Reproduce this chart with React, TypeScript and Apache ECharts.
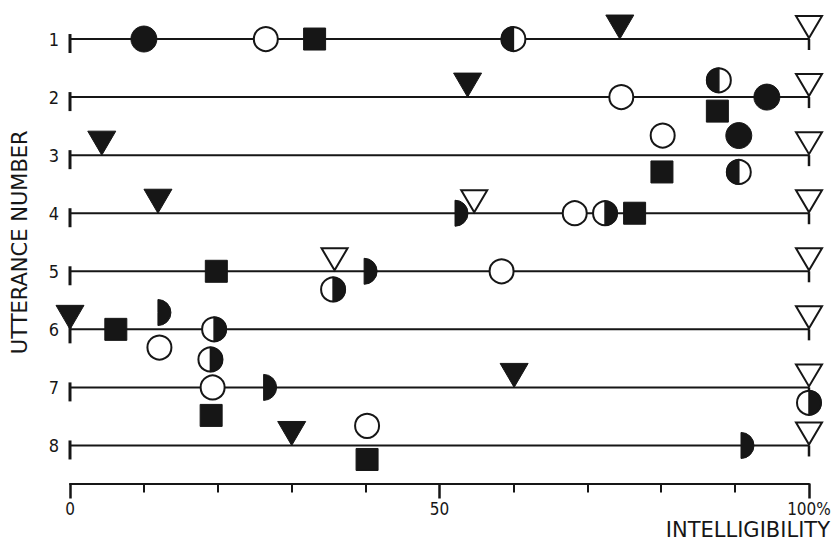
import React, { useEffect, useRef } from 'react';
import * as echarts from 'echarts';

// ---------- data ----------
const utterances = ['1', '2', '3', '4', '5', '6', '7', '8'];
const scaleRange = [0, 100];
const xTickValues = [0, 50, 100];
const xTickLabels = ['0', '50', '100%'];

// [utterance number, intelligibility %, lane (stagger above -/below + the line)]
const filledCircle = [[1, 10, 0], [2, 94.3, 0], [3, 90.5, -1.4]];
const openCircle = [[1, 26.5, 0], [2, 74.6, 0], [3, 80.2, -1.4], [4, 68.3, 0], [5, 58.4, 0], [6, 12.1, 1.3], [7, 19.3, 0], [8, 40.2, -1.4]];
const filledSquare = [[1, 33.1, 0], [2, 87.6, 1], [3, 80.1, 1.2], [4, 76.4, 0], [5, 19.8, 0], [6, 6.2, 0], [7, 19.1, 2], [8, 40.2, 1]];
const halfLeftFilled = [[1, 60, 0], [2, 87.8, -1.2], [3, 90.5, 1.2]];
const halfRightFilled = [[4, 72.4, 0], [5, 35.6, 1.3], [6, 19.5, 0], [7, 19.0, -2], [7, 100, 1.1]];
const filledTriangle = [[1, 74.4, 0], [2, 53.8, 0], [3, 4.3, 0], [4, 11.9, 0], [6, 0, 0], [7, 60.1, 0], [8, 30, 0]];
const openTriangle = [[1, 100, 0], [2, 100, 0], [3, 100, 0], [4, 54.7, 0], [4, 100, 0], [5, 35.8, 0], [5, 100, 0], [6, 100, 0], [7, 100, 0], [8, 100, 0]];
const halfDisc = [[4, 52.1, 0], [5, 39.8, 0], [6, 11.9, -1.2], [7, 26.2, 0], [8, 90.8, 0]];

// ---------- styles ----------
const INK = '#161616';
const R = 13;
const LANE = 14;
const FONT = "'DejaVu Sans Condensed', 'DejaVu Sans', sans-serif";
const TITLE_FONT = "'DejaVu Sans', sans-serif";

function shapes(kind: string, cx: number, cy: number): any[] {
  const solid = { fill: INK, stroke: INK, lineWidth: 1 };
  const open = { fill: '#fff', stroke: INK, lineWidth: 2 };
  switch (kind) {
    case 'fc':
      return [{ type: 'circle', shape: { cx, cy, r: R }, style: solid }];
    case 'oc':
      return [{ type: 'circle', shape: { cx, cy, r: R - 1 }, style: open }];
    case 'sq':
      return [{ type: 'rect', shape: { x: cx - 11, y: cy - 11, width: 22, height: 22 }, style: solid }];
    case 'hl':
      return [
        { type: 'circle', shape: { cx, cy, r: R - 1 }, style: open },
        { type: 'sector', shape: { cx, cy, r: R - 1, r0: 0, startAngle: Math.PI / 2, endAngle: Math.PI * 1.5, clockwise: true }, style: { fill: INK, stroke: INK, lineWidth: 1.5 } },
      ];
    case 'hr':
      return [
        { type: 'circle', shape: { cx, cy, r: R - 1 }, style: open },
        { type: 'sector', shape: { cx, cy, r: R - 1, r0: 0, startAngle: -Math.PI / 2, endAngle: Math.PI / 2, clockwise: true }, style: { fill: INK, stroke: INK, lineWidth: 1.5 } },
      ];
    case 'ft':
      return [{ type: 'polygon', shape: { points: [[cx - 14, cy - 24], [cx + 14, cy - 24], [cx, cy]] }, style: solid }];
    case 'ot':
      return [{ type: 'polygon', shape: { points: [[cx - 13, cy - 23], [cx + 13, cy - 23], [cx, cy - 1]] }, style: open }];
    case 'dh':
    default:
      return [{ type: 'sector', shape: { cx, cy, r: R, r0: 0, startAngle: -Math.PI / 2, endAngle: Math.PI / 2, clockwise: true }, style: solid }];
  }
}

function markerSeries(name: string, kind: string, rows: number[][]) {
  return {
    type: 'custom',
    name,
    coordinateSystem: 'cartesian2d',
    data: rows.map(([u, v, lane]) => [v, u - 1, lane]),
    encode: { x: 0, y: 1 },
    z: 3,
    renderItem: (_params: any, api: any) => {
      const p = api.coord([api.value(0), api.value(1)]);
      const cy = p[1] + api.value(2) * LANE;
      return { type: 'group', children: shapes(kind, p[0], cy) };
    },
  };
}

const rowSeries = {
  type: 'custom',
  name: 'utterance lines',
  coordinateSystem: 'cartesian2d',
  silent: true,
  data: utterances.map((_, i) => [scaleRange[1], i]),
  encode: { x: 0, y: 1 },
  z: 2,
  renderItem: (_params: any, api: any) => {
    const i = api.value(1);
    const a = api.coord([scaleRange[0], i]);
    const b = api.coord([scaleRange[1], i]);
    return {
      type: 'group',
      children: [
        { type: 'line', shape: { x1: a[0], y1: a[1], x2: b[0], y2: b[1] }, style: { stroke: INK, lineWidth: 2 } },
        { type: 'line', shape: { x1: a[0], y1: a[1] - 5, x2: a[0], y2: a[1] + 14 }, style: { stroke: INK, lineWidth: 3 } },
        { type: 'line', shape: { x1: b[0], y1: b[1], x2: b[0], y2: b[1] + 11 }, style: { stroke: INK, lineWidth: 2.5 } },
      ],
    };
  },
};

const option: any = {
  animation: false,
  backgroundColor: '#fff',
  grid: { left: 70, right: 30, top: 10, bottom: 70.5, containLabel: false, outerBoundsMode: 'none' },
  xAxis: {
    type: 'value',
    min: scaleRange[0],
    max: scaleRange[1],
    interval: 50,
    position: 'bottom',
    offset: 9,
    axisLine: { show: true, lineStyle: { color: INK, width: 2 } },
    axisTick: { show: true, length: 15, lineStyle: { color: INK, width: 2.5 } },
    minorTick: { show: true, splitNumber: 5, length: 9, lineStyle: { color: INK, width: 2 } },
    splitLine: { show: false },
    minorSplitLine: { show: false },
    axisLabel: {
      margin: 17,
      fontSize: 17,
      color: INK,
      fontFamily: FONT,
      formatter: (v: number) => {
        const k = xTickValues.indexOf(v);
        return k >= 0 ? xTickLabels[k] : '';
      },
    },
    name: 'INTELLIGIBILITY',
    nameLocation: 'end',
    nameGap: 21,
    nameTextStyle: { align: 'right', verticalAlign: 'top', padding: [36, 0, 0, 0], fontSize: 21, color: INK, fontFamily: TITLE_FONT },
  },
  yAxis: {
    type: 'category',
    data: utterances,
    inverse: true,
    axisLine: { show: false },
    axisTick: { show: false },
    splitLine: { show: false },
    axisLabel: { margin: 11, fontSize: 18, color: INK, fontFamily: FONT },
    name: 'UTTERANCE NUMBER',
    nameLocation: 'middle',
    nameGap: 40,
    nameTextStyle: { fontSize: 21, color: INK, fontFamily: TITLE_FONT },
  },
  series: [
    rowSeries,
    markerSeries('filled circle', 'fc', filledCircle),
    markerSeries('open circle', 'oc', openCircle),
    markerSeries('filled square', 'sq', filledSquare),
    markerSeries('half circle (left filled)', 'hl', halfLeftFilled),
    markerSeries('half circle (right filled)', 'hr', halfRightFilled),
    markerSeries('filled triangle', 'ft', filledTriangle),
    markerSeries('open triangle', 'ot', openTriangle),
    markerSeries('half disc', 'dh', halfDisc),
  ],
};

export default function App() {
  const ref = useRef<HTMLDivElement>(null);
  useEffect(() => {
    if (!ref.current) return;
    const chart = echarts.init(ref.current, null, { renderer: 'svg' });
    chart.setOption(option);
    return () => chart.dispose();
  }, []);
  return (
    <div
      ref={ref}
      style={{ position: 'fixed', left: 0, top: 0, width: 839, height: 545, background: '#fff' }}
    />
  );
}
